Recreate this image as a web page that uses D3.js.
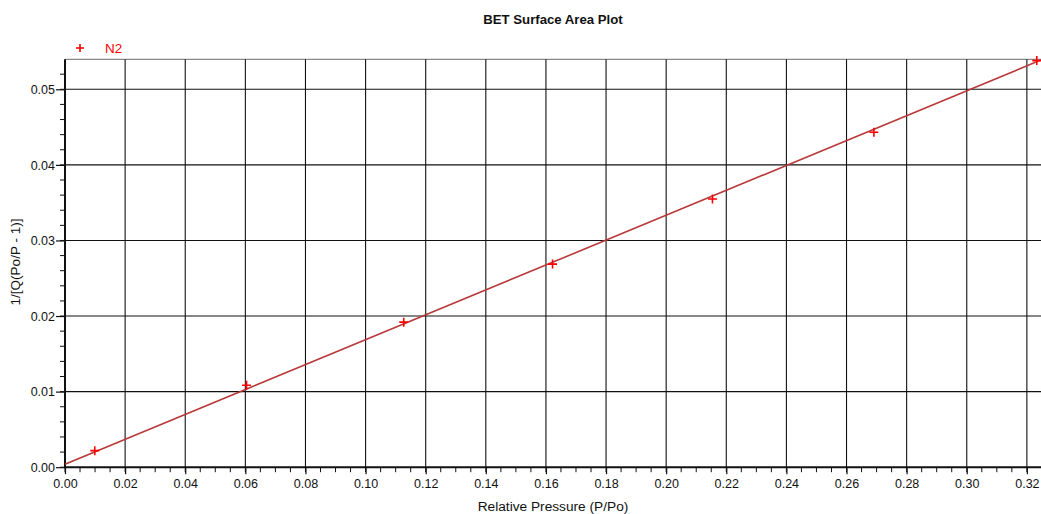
<!DOCTYPE html>
<html>
<head>
<meta charset="utf-8">
<script src="https://cdn.jsdelivr.net/npm/d3@7"></script>
<style>
  html, body { margin: 0; padding: 0; background: #fff; }
  svg { display: block; font-family: "Liberation Sans", Arial, sans-serif; }
</style>
</head>
<body>
<svg id="chart" width="1041" height="514"></svg>
<script>
// Measured BET points for N2
const relPressure = [0.0099, 0.0604, 0.1127, 0.1622, 0.2154, 0.2691, 0.3233];
const betTransform = [0.00219, 0.01085, 0.01919, 0.02687, 0.03548, 0.04431, 0.0538];
// Linear fit: intercept, slope
const fitIntercept = [0.0004];
const fitSlope = [0.1647];
const xTicks = [0.00, 0.02, 0.04, 0.06, 0.08, 0.10, 0.12, 0.14, 0.16, 0.18, 0.20, 0.22, 0.24, 0.26, 0.28, 0.30, 0.32];
const yTicks = [0.00, 0.01, 0.02, 0.03, 0.04, 0.05];
const seriesName = ["N2"];

const svg = d3.select("#chart");
const W = 1041, H = 514;
const margin = { left: 65, right: 0, top: 59.3, bottom: 514 - 467.2 };
const xMax = 0.3247, yMax = 0.05397;

const x = d3.scaleLinear().domain([0, xMax]).range([margin.left, W - margin.right]);
const y = d3.scaleLinear().domain([0, yMax]).range([H - margin.bottom, margin.top]);

const gridColor = "#111";

// Top border
svg.append("line")
  .attr("x1", x(0)).attr("x2", W).attr("y1", y(yMax)).attr("y2", y(yMax))
  .attr("stroke", "#888").attr("stroke-width", 1.2);

// Grid lines
svg.append("g").selectAll("line").data(xTicks.filter(d => d > 0)).join("line")
  .attr("x1", d => x(d)).attr("x2", d => x(d))
  .attr("y1", y(0)).attr("y2", y(yMax))
  .attr("stroke", gridColor).attr("stroke-width", 1.1);
svg.append("g").selectAll("line").data(yTicks.filter(d => d > 0)).join("line")
  .attr("x1", x(0)).attr("x2", W)
  .attr("y1", d => y(d)).attr("y2", d => y(d))
  .attr("stroke", gridColor).attr("stroke-width", 1.1);

// Minor ticks
const xMinor = d3.range(0, xMax + 1e-9, 0.005);
const yMinor = d3.range(0, yMax + 1e-9, 0.002);
svg.append("g").selectAll("line").data(xMinor).join("line")
  .attr("x1", d => x(d)).attr("x2", d => x(d))
  .attr("y1", y(0)).attr("y2", y(0) + 5)
  .attr("stroke", "#111").attr("stroke-width", 1);
svg.append("g").selectAll("line").data(yMinor).join("line")
  .attr("x1", x(0) - 5).attr("x2", x(0))
  .attr("y1", d => y(d)).attr("y2", d => y(d))
  .attr("stroke", "#111").attr("stroke-width", 1);

// Axes
const xAxis = d3.axisBottom(x).tickValues(xTicks).tickFormat(d3.format(".2f"))
  .tickSize(7).tickPadding(5);
const yAxis = d3.axisLeft(y).tickValues(yTicks).tickFormat(d3.format(".2f"))
  .tickSize(9).tickPadding(1);

const gx = svg.append("g").attr("transform", `translate(0,${y(0)})`).call(xAxis);
const gy = svg.append("g").attr("transform", `translate(${x(0)},0)`).call(yAxis);
[gx, gy].forEach(g => {
  g.select(".domain").remove();
  g.selectAll(".tick line").attr("stroke", "#111").attr("stroke-width", 1.2);
  g.selectAll("text").attr("fill", "#111").attr("font-size", 12.5)
    .attr("font-family", "'Liberation Sans', Arial, sans-serif");
});
gy.selectAll("text").attr("dy", "0.35em");

// Axis lines
svg.append("line").attr("x1", x(0)).attr("x2", W).attr("y1", y(0)).attr("y2", y(0))
  .attr("stroke", "#111").attr("stroke-width", 2);
svg.append("line").attr("x1", x(0)).attr("x2", x(0)).attr("y1", y(0) + 1).attr("y2", y(yMax))
  .attr("stroke", "#111").attr("stroke-width", 2);

// Fit line
svg.append("line")
  .attr("x1", x(0)).attr("y1", y(fitIntercept[0]))
  .attr("x2", x(xMax)).attr("y2", y(fitIntercept[0] + fitSlope[0] * xMax))
  .attr("stroke", "#b83838").attr("stroke-width", 1.6);

// Data markers
const cross = (g, cx, cy, s) => {
  g.append("path")
    .attr("d", `M${cx - s},${cy}H${cx + s}M${cx},${cy - s}V${cy + s}`)
    .attr("stroke", "#ff0000").attr("stroke-width", 1.6).attr("fill", "none");
};
const pts = svg.append("g");
relPressure.forEach((p, i) => cross(pts, x(p), y(betTransform[i]), 4.5));

// Legend
cross(svg, 80, 48, 4);
svg.append("text").attr("x", 105).attr("y", 52.5).attr("fill", "#ff0000")
  .attr("font-size", 13.5).text(seriesName[0]);

// Title
svg.append("text").attr("x", 553).attr("y", 24).attr("text-anchor", "middle")
  .attr("font-size", 13.2).attr("font-weight", "bold").attr("fill", "#111")
  .text("BET Surface Area Plot");

// Axis titles
svg.append("text").attr("x", 553).attr("y", 511).attr("text-anchor", "middle")
  .attr("font-size", 13.7).attr("fill", "#111").text("Relative Pressure (P/Po)");
svg.append("text").attr("transform", "translate(20,262) rotate(-90)")
  .attr("text-anchor", "middle").attr("font-size", 13.5).attr("fill", "#111")
  .text("1/[Q(Po/P - 1)]");
</script>
</body>
</html>
